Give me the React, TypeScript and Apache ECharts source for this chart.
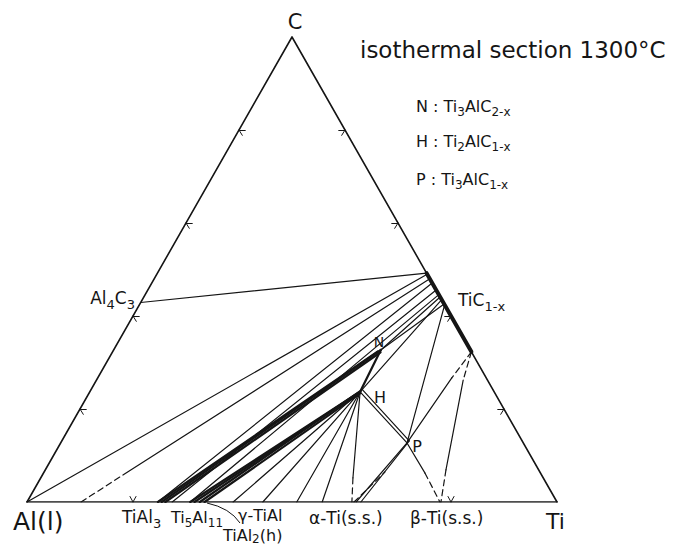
import React, { useEffect, useRef } from "react";
import * as echarts from "echarts";

const FONT = "DejaVu Sans, sans-serif";
const INK = "#151515";

// All compositions are [Ti at.%, C at.%]  (Al = 100 - Ti - C)
const CORNERS = [
  [0, 0],
  [100, 0],
  [0, 100],
];
const LEFT_TICKS = [20, 40, 60, 80]; // C at.% on Al–C edge
const RIGHT_TICKS = [20, 40, 60, 80]; // C at.% on Ti–C edge
const BASE_TICKS = [20, 80]; // Ti at.% on Al–Ti edge
const TIC_RANGE = [49.2, 32.3]; // C at.% limits of TiC1-x

// tie lines [Ti1, C1, Ti2, C2]
const SOLID_TIES = [
  [0, 42.9, 50.8, 49.2],
  [0, 0, 51.0, 49.0],
  [15.2, 5.8, 52.0, 48.0],
  [24.7, 0, 52.9, 47.1],
  [27.4, 0, 54.4, 45.6],
  [30.8, 0, 55.4, 44.6],
  [50.4, 32.7, 55.9, 44.1],
  [50.4, 32.7, 57.4, 42.6],
  [51.0, 23.7, 56.5, 43.5],
  [57.6, 42.4, 65.35, 12.7],
  [51.0, 23.7, 38.9, 0],
  [51.0, 23.7, 44.5, 0],
  [51.0, 23.7, 50.9, 0],
  [51.0, 23.7, 55.7, 0],
  [51.0, 23.7, 58.9, 5.2],
  [65.35, 12.7, 72.0, 6.2],
  [66.8, 26.7, 65.35, 12.7],
  [69.2, 26.2, 75.6, 6.9],
  [51.0, 23.7, 65.35, 12.7],
  [51.2, 24.15, 65.55, 13.15],
  [65.35, 12.7, 62.1, 0],
  [65.55, 13.15, 63.0, 0],
];
const DASHED_TIES = [
  [10.2, 0, 15.2, 5.8],
  [58.9, 5.2, 61.3, 0],
  [72.0, 6.2, 77.9, 0],
  [67.7, 32.3, 66.8, 26.7],
  [67.7, 32.3, 69.2, 26.2],
  [75.6, 6.9, 78.1, 0],
  [61.7, 0, 64.3, 6.45],
];
const THICK_TIES = [
  [50.4, 32.7, 51.0, 23.7],
  [24.7, 0, 50.0, 32.4],
  [25.4, 0, 50.4, 32.7],
  [26.1, 0, 50.6, 32.2],
  [30.8, 0, 50.8, 23.5],
  [31.6, 0, 51.0, 23.7],
  [32.6, 0, 51.0, 23.9],
  [33.5, 0, 51.2, 23.4],
];

const toXY = (ti: number, c: number) => [ti + c / 2, c];
const seg = (t: number[]) => ({ coords: [toXY(t[0], t[1]), toXY(t[2], t[3])] });

// pixel scale of the grid (for tick chevrons drawn in data units)
const GRID = { left: 27, top: 37, width: 530, height: 465 };
const SX = GRID.width / 100;
const SY = GRID.height / 100;

function chevron(tip: number[], n: number[], t: number[]) {
  const L = 5.5, W = 3;
  const arm = (k: number) => [
    tip[0] + (n[0] * L + t[0] * W * k) / SX,
    tip[1] - (n[1] * L + t[1] * W * k) / SY,
  ];
  return [{ coords: [tip, arm(1)] }, { coords: [tip, arm(-1)] }];
}

function buildTicks() {
  const out: any[] = [];
  LEFT_TICKS.forEach((c) => out.push(...chevron(toXY(0, c), [0.869, 0.496], [0.496, -0.869])));
  RIGHT_TICKS.forEach((c) => out.push(...chevron(toXY(100 - c, c), [-0.869, 0.496], [-0.496, -0.869])));
  BASE_TICKS.forEach((ti) => out.push(...chevron(toXY(ti, 0), [0, -1], [1, 0])));
  return out;
}

function richText(text: string, x: number, y: number, size: number, align = "left", lh = 1.45) {
  const s = Math.round(size * 0.76);
  return {
    type: "text",
    x,
    y,
    silent: true,
    style: {
      text,
      fill: INK,
      align,
      textAlign: align,
      verticalAlign: "middle",
      textVerticalAlign: "middle",
      fontFamily: FONT,
      fontSize: size,
      rich: {
        m: { fontSize: size, fontFamily: FONT, lineHeight: Math.round(size * lh), fill: INK, color: INK },
        s: { fontSize: s, fontFamily: FONT, lineHeight: s, verticalAlign: "bottom", fill: INK, color: INK },
      },
    },
  };
}

const m = (t: string) => `{m|${t}}`;
const s = (t: string) => `{s|${t}}`;

export default function App() {
  const ref = useRef<HTMLDivElement>(null);
  useEffect(() => {
    if (!ref.current) return;
    const chart = echarts.init(ref.current, undefined, { renderer: "svg" });
    const lineSeries = (data: any[], width: number, type: any = "solid") => ({
      type: "lines",
      coordinateSystem: "cartesian2d",
      silent: true,
      symbol: ["none", "none"],
      lineStyle: { color: INK, width, type, opacity: 1, cap: "round" },
      data,
    });
    const edges = [
      seg([...CORNERS[0], ...CORNERS[1]]),
      seg([...CORNERS[1], ...CORNERS[2]]),
      seg([...CORNERS[2], ...CORNERS[0]]),
    ];
    const tic = [seg([100 - TIC_RANGE[0], TIC_RANGE[0], 100 - TIC_RANGE[1], TIC_RANGE[1]])];
    chart.setOption({
      animation: false,
      backgroundColor: "#ffffff",
      grid: { ...GRID, containLabel: false },
      xAxis: { type: "value", min: 0, max: 100, show: false },
      yAxis: { type: "value", min: 0, max: 100, show: false },
      series: [
        lineSeries(edges, 1.6),
        lineSeries(SOLID_TIES.map(seg), 1.2),
        lineSeries(DASHED_TIES.map(seg), 1.2, [6, 4]),
        lineSeries(THICK_TIES.map(seg), 2.2),
        lineSeries(tic, 4),
        lineSeries(buildTicks(), 1),
      ],
      graphic: [
        richText(m("C"), 295, 22, 21, "center"),
        richText(m("Al(l)"), 13, 521, 25),
        richText(m("Ti"), 546, 521, 22),
        richText(m("isothermal section 1300°C"), 360, 50, 23),
        richText(m("N : Ti") + s("3") + m("AlC") + s("2-x"), 416, 106, 16),
        richText(m("H : Ti") + s("2") + m("AlC") + s("1-x"), 416, 141, 16),
        richText(m("P : Ti") + s("3") + m("AlC") + s("1-x"), 416, 179, 16),
        richText(m("Al") + s("4") + m("C") + s("3"), 135, 298, 17, "right"),
        richText(m("TiC") + s("1-x"), 458, 300, 17),
        richText(m("N"), 379, 342, 14, "center"),
        richText(m("H"), 380, 397, 16, "center"),
        richText(m("P"), 417, 446, 16, "center"),
        richText(m("TiAl") + s("3"), 122, 517, 17),
        richText(m("Ti") + s("5") + m("Al") + s("11"), 171, 517, 16),
        richText(m("γ-TiAl"), 238, 515, 16, "left", 1.1),
        richText(m("TiAl") + s("2") + m("(h)"), 223, 535, 16, "left", 1.25),
        richText(m("α-Ti(s.s.)"), 309, 518, 17),
        richText(m("β-Ti(s.s.)"), 410, 518, 17),
        {
          type: "bezierCurve",
          silent: true,
          shape: { x1: 240, y1: 523, x2: 207, y2: 503, cpx1: 230, cpy1: 508 },
          style: { stroke: INK, lineWidth: 1, fill: "none" },
        },
      ],
    });
    return () => chart.dispose();
  }, []);
  return (
    <div
      ref={ref}
      style={{ position: "absolute", left: 0, top: 0, width: 676, height: 547, background: "#fff" }}
    />
  );
}
